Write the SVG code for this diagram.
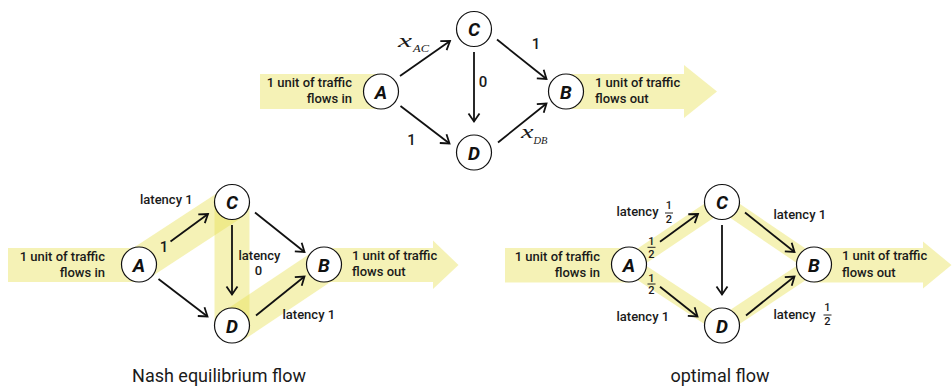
<svg xmlns="http://www.w3.org/2000/svg" width="952" height="386" viewBox="0 0 952 386">
<style>
.band{fill:#e8e050;fill-opacity:0.42;}
.bandS{stroke:#e8e050;stroke-opacity:0.42;fill:none;stroke-linecap:butt;}
.edge{stroke:#111;stroke-width:1.8;fill:none;marker-end:url(#ah);}
.node circle{fill:#fff;stroke:#111;stroke-width:1.2;}
.node text{font-family:Roboto,"Liberation Sans",sans-serif;font-weight:bold;font-style:italic;font-size:19px;fill:#111;text-anchor:middle;}
.lbl{font-family:Roboto,"Liberation Sans",sans-serif;font-weight:500;font-size:13px;fill:#1a1a1a;}
.num{font-family:Roboto,"Liberation Sans",sans-serif;font-weight:500;font-size:15px;fill:#1a1a1a;text-anchor:middle;}
.frac{font-family:Roboto,"Liberation Sans",sans-serif;font-weight:500;font-size:11px;fill:#1a1a1a;text-anchor:middle;}
.fbar{stroke:#222;stroke-width:1;}
.mx{font-family:"Liberation Serif",serif;font-style:italic;font-size:18px;fill:#1a1a1a;}
.ms{font-family:"Liberation Serif",serif;font-style:italic;font-size:10px;fill:#1a1a1a;}
.cap{font-family:Roboto,"Liberation Sans",sans-serif;font-size:18px;fill:#1a1a1a;text-anchor:middle;}
.end{text-anchor:end;}
</style>
<defs>
<marker id="ah" viewBox="-10 -7 12 14" markerWidth="12" markerHeight="14" refX="0" refY="0" orient="auto" markerUnits="userSpaceOnUse">
<path d="M-8,-5.5 L0,0 L-8,5.5" fill="none" stroke="#111" stroke-width="1.8"/>
</marker>
</defs>

<!-- ===== Top diagram ===== -->
<g id="top">
<g id="top-bands">
<rect class="band" x="260" y="74" width="121" height="35"/>
<path class="band" d="M566,74 L684,74 L684,65 L717,91.5 L684,118 L684,109 L566,109 Z"/>
</g>
<g id="top-connectors">
<line class="edge" x1="400" y1="76" x2="450" y2="41"/>
<line class="edge" x1="497" y1="39.5" x2="546.5" y2="79"/>
<line class="edge" x1="474" y1="52" x2="474" y2="121.5"/>
<line class="edge" x1="400.5" y1="106" x2="449.5" y2="143.5"/>
<line class="edge" x1="498" y1="142.5" x2="546.5" y2="103.5"/>
</g>
<g id="top-A" class="node"><circle cx="381" cy="91.5" r="17.5"/><text x="381" y="98.5">A</text></g>
<g id="top-C" class="node"><circle cx="474" cy="29" r="17.5"/><text x="474" y="36">C</text></g>
<g id="top-D" class="node"><circle cx="474" cy="152.5" r="17.5"/><text x="474" y="159.5">D</text></g>
<g id="top-B" class="node"><circle cx="566" cy="91.5" r="17.5"/><text x="566" y="98.5">B</text></g>
<g id="top-labels">
<text class="lbl end" x="352" y="87">1 unit of traffic</text>
<text class="lbl end" x="352" y="103">flows in</text>
<text class="lbl" x="595" y="87">1 unit of traffic</text>
<text class="lbl" x="595" y="103">flows out</text>
<text class="mx" x="398" y="47" textLength="14" lengthAdjust="spacingAndGlyphs">x</text>
<text class="ms" x="413" y="52" textLength="16" lengthAdjust="spacingAndGlyphs">AC</text>
<text class="num" x="536" y="48.5">1</text>
<text class="num" x="483" y="86.5">0</text>
<text class="num" x="411.5" y="145">1</text>
<text class="mx" x="521" y="137.5" textLength="12.5" lengthAdjust="spacingAndGlyphs">x</text>
<text class="ms" x="533.5" y="143.5" textLength="14" lengthAdjust="spacingAndGlyphs">DB</text>
</g>
</g>

<!-- ===== Nash equilibrium ===== -->
<g id="nash">
<g id="nash-bands">
<rect class="band" x="8" y="248" width="131" height="34"/>
<path class="band" d="M324.5,248 L433,248 L433,240.5 L458.5,265 L433,289 L433,282 L324.5,282 Z"/>
<line class="bandS" x1="139" y1="264.5" x2="231.5" y2="204" stroke-width="34"/>
<line class="bandS" x1="232" y1="204" x2="232" y2="327" stroke-width="35"/>
<line class="bandS" x1="231.5" y1="327" x2="324.5" y2="265" stroke-width="35"/>
</g>
<g id="nash-connectors" transform="translate(-242,173)">
<line class="edge" x1="412.5" y1="68.5" x2="450" y2="41"/>
<line class="edge" x1="497" y1="39.5" x2="546.5" y2="79"/>
<line class="edge" x1="474" y1="52" x2="474" y2="121.5"/>
<line class="edge" x1="400.5" y1="106" x2="449.5" y2="143.5"/>
<line class="edge" x1="498" y1="142.5" x2="546.5" y2="103.5"/>
</g>
<g id="nash-A" class="node"><circle cx="139" cy="264.5" r="17.5"/><text x="139" y="271.5">A</text></g>
<g id="nash-C" class="node"><circle cx="232" cy="202" r="17.5"/><text x="232" y="209">C</text></g>
<g id="nash-D" class="node"><circle cx="232" cy="325.5" r="17.5"/><text x="232" y="332.5">D</text></g>
<g id="nash-B" class="node"><circle cx="324" cy="264.5" r="17.5"/><text x="324" y="271.5">B</text></g>
<g id="nash-labels">
<text class="lbl end" x="105" y="260.5">1 unit of traffic</text>
<text class="lbl end" x="105" y="276.5">flows in</text>
<text class="lbl" x="352" y="260">1 unit of traffic</text>
<text class="lbl" x="352" y="276">flows out</text>
<text class="lbl" x="140" y="203.5">latency 1</text>
<text class="num" x="164" y="251.5">1</text>
<text class="lbl" x="259.5" y="259.5" text-anchor="middle">latency</text>
<text class="lbl" x="258.5" y="275" text-anchor="middle">0</text>
<text class="lbl" x="282.5" y="319">latency 1</text>
<text class="cap" x="219" y="382">Nash equilibrium flow</text>
</g>
</g>

<!-- ===== Optimal flow ===== -->
<g id="optimal">
<g id="opt-bands">
<rect class="band" x="505" y="248" width="124" height="34.5"/>
<path class="band" d="M814,248 L923,248 L923,241.5 L951.5,265 L923,288.5 L923,282.5 L814,282.5 Z"/>
<line class="bandS" x1="629" y1="264.5" x2="722" y2="202" stroke-width="17"/>
<line class="bandS" x1="722" y1="202" x2="814" y2="264.5" stroke-width="17"/>
<line class="bandS" x1="629" y1="264.5" x2="722" y2="325.5" stroke-width="17"/>
<line class="bandS" x1="722" y1="325.5" x2="814" y2="264.5" stroke-width="17"/>
</g>
<g id="opt-connectors" transform="translate(248,173)">
<line class="edge" x1="412" y1="68.7" x2="450" y2="41"/>
<line class="edge" x1="497" y1="39.5" x2="546.5" y2="79"/>
<line class="edge" x1="474" y1="52" x2="474" y2="121.5"/>
<line class="edge" x1="412" y1="113.7" x2="449.5" y2="143.5"/>
<line class="edge" x1="498" y1="142.5" x2="546.5" y2="103.5"/>
</g>
<g id="opt-A" class="node"><circle cx="629" cy="264.5" r="17.5"/><text x="629" y="271.5">A</text></g>
<g id="opt-C" class="node"><circle cx="722" cy="202" r="17.5"/><text x="722" y="209">C</text></g>
<g id="opt-D" class="node"><circle cx="722" cy="325.5" r="17.5"/><text x="722" y="332.5">D</text></g>
<g id="opt-B" class="node"><circle cx="814" cy="264.5" r="17.5"/><text x="814" y="271.5">B</text></g>
<g id="opt-labels">
<text class="lbl end" x="600" y="260.5">1 unit of traffic</text>
<text class="lbl end" x="600" y="277">flows in</text>
<text class="lbl" x="842" y="260">1 unit of traffic</text>
<text class="lbl" x="842" y="276.5">flows out</text>
<text class="lbl" x="616.5" y="216">latency</text>
<text class="frac" x="669" y="208.5">1</text><line class="fbar" x1="665" y1="213" x2="673" y2="213"/><text class="frac" x="669" y="223">2</text>
<text class="lbl" x="773.5" y="218.5">latency 1</text>
<text class="frac" x="651.5" y="245">1</text><line class="fbar" x1="647.5" y1="247.3" x2="655.5" y2="247.3"/><text class="frac" x="651.5" y="257.5">2</text>
<text class="frac" x="651.5" y="281.5">1</text><line class="fbar" x1="647.5" y1="284" x2="655.5" y2="284"/><text class="frac" x="651.5" y="294">2</text>
<text class="lbl" x="616.5" y="321">latency 1</text>
<text class="lbl" x="773.5" y="318.5">latency</text>
<text class="frac" x="827.5" y="310.5">1</text><line class="fbar" x1="823.5" y1="315" x2="831.5" y2="315"/><text class="frac" x="827.5" y="325">2</text>
<text class="cap" x="720" y="382">optimal flow</text>
</g>
</g>
</svg>
